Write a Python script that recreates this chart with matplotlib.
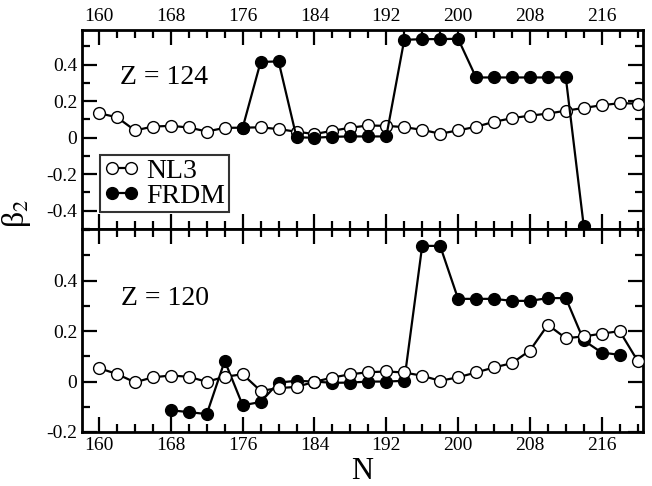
import numpy as np
import matplotlib.pyplot as plt
from matplotlib.ticker import MultipleLocator, FixedLocator, FixedFormatter

plt.rcParams.update({
    'font.family': 'serif',
    'font.serif': ['Liberation Serif', 'DejaVu Serif'],
    'mathtext.fontset': 'stix',
    'axes.unicode_minus': False,
    'axes.linewidth': 2.0,
})

# Z = 124
n124_nl3 = np.arange(160, 222, 2)
b124_nl3 = [0.134, 0.112, 0.040, 0.061, 0.065, 0.056, 0.034, 0.054, 0.055, 0.057,
            0.047, 0.033, 0.020, 0.038, 0.055, 0.067, 0.065, 0.058, 0.043, 0.022,
            0.040, 0.060, 0.087, 0.107, 0.121, 0.132, 0.148, 0.163, 0.178, 0.189, 0.187]
n124_frdm = np.arange(176, 216, 2)
b124_frdm = [0.055, 0.415, 0.418, 0.002, 0.000, 0.005, 0.007, 0.007, 0.007,
             0.536, 0.540, 0.540, 0.542, 0.330, 0.330, 0.330, 0.330, 0.330, 0.330, -0.485]

# Z = 120
n120_nl3 = np.arange(160, 222, 2)
b120_nl3 = [0.053, 0.030, -0.003, 0.017, 0.024, 0.019, -0.001, 0.019, 0.029, -0.037,
            -0.026, -0.021, -0.001, 0.016, 0.029, 0.037, 0.040, 0.036, 0.023, 0.003,
            0.017, 0.036, 0.056, 0.073, 0.123, 0.225, 0.172, 0.179, 0.190, 0.200, 0.082]
n120_frdm = np.arange(168, 220, 2)
b120_frdm = [-0.114, -0.121, -0.129, 0.082, -0.094, -0.081, -0.004, 0.003, 0.000,
             -0.005, -0.004, 0.000, 0.000, 0.003, 0.538, 0.538, 0.328, 0.328, 0.328,
             0.320, 0.320, 0.331, 0.331, 0.163, 0.115, 0.106]

fig = plt.figure(figsize=(6.52, 4.86), dpi=100)
L, R = 82 / 652, 643 / 652
ax1 = fig.add_axes([L, 1 - 229 / 486, R - L, 199 / 486])
ax2 = fig.add_axes([L, 1 - 432 / 486, R - L, 203 / 486])

ms = 8.5
style_open = dict(color='black', lw=1.6, marker='o', ms=ms, mfc='white', mec='black', mew=1.0)
style_fill = dict(color='black', lw=1.6, marker='o', ms=ms, mfc='black', mec='black', mew=1.0)

ax1.plot(n124_nl3, b124_nl3, label='NL3', zorder=3, **style_open)
ax1.plot(n124_frdm, b124_frdm, label='FRDM', zorder=4, clip_on=False, **style_fill)
ax2.plot(n120_nl3, b120_nl3, zorder=4, **style_open)
ax2.plot(n120_frdm, b120_frdm, zorder=3, **style_fill)

ax1.set_ylim(-0.5, 0.59)
ax2.set_ylim(-0.2, 0.605)

for ax in (ax1, ax2):
    ax.set_xlim(158.1, 220.6)
    ax.xaxis.set_major_locator(MultipleLocator(8))
    ax.xaxis.set_minor_locator(MultipleLocator(2))
    ax.yaxis.set_minor_locator(MultipleLocator(0.1))
    ax.tick_params(which='both', direction='in', top=True, right=True,
                   labelsize=14, width=1.6)
    ax.tick_params(which='major', length=11)
    ax.tick_params(which='minor', length=6)

ax1.yaxis.set_major_locator(FixedLocator([-0.4, -0.2, 0, 0.2, 0.4]))
ax1.yaxis.set_major_formatter(FixedFormatter(['-0.4', '-0.2', '0', '0.2', '0.4']))
ax2.yaxis.set_major_locator(FixedLocator([-0.2, 0, 0.2, 0.4]))
ax2.yaxis.set_major_formatter(FixedFormatter(['-0.2', '0', '0.2', '0.4']))

ax1.tick_params(axis='x', labeltop=True, labelbottom=False)
ax2.tick_params(axis='x', labeltop=False, labelbottom=True)

ax1.text(0.068, 0.76, 'Z = 124', transform=ax1.transAxes, fontsize=20, va='center')
ax2.text(0.07, 0.659, 'Z = 120', transform=ax2.transAxes, fontsize=20, va='center')

leg = ax1.legend(loc='lower left', bbox_to_anchor=(0.032, 0.084), borderaxespad=0,
                 fontsize=20, frameon=True, fancybox=False, numpoints=2,
                 handlelength=1.3, handletextpad=0.25, borderpad=0.12, labelspacing=0.0)
leg.get_frame().set_edgecolor('black')
leg.get_frame().set_linewidth(1.5)

ax2.set_xlabel('N', fontsize=22, labelpad=2)
fig.text(0.026, 0.56, r'β$_2$', fontsize=23, rotation=90,
         va='center', ha='center')

fig.savefig('out.png', dpi=100)
